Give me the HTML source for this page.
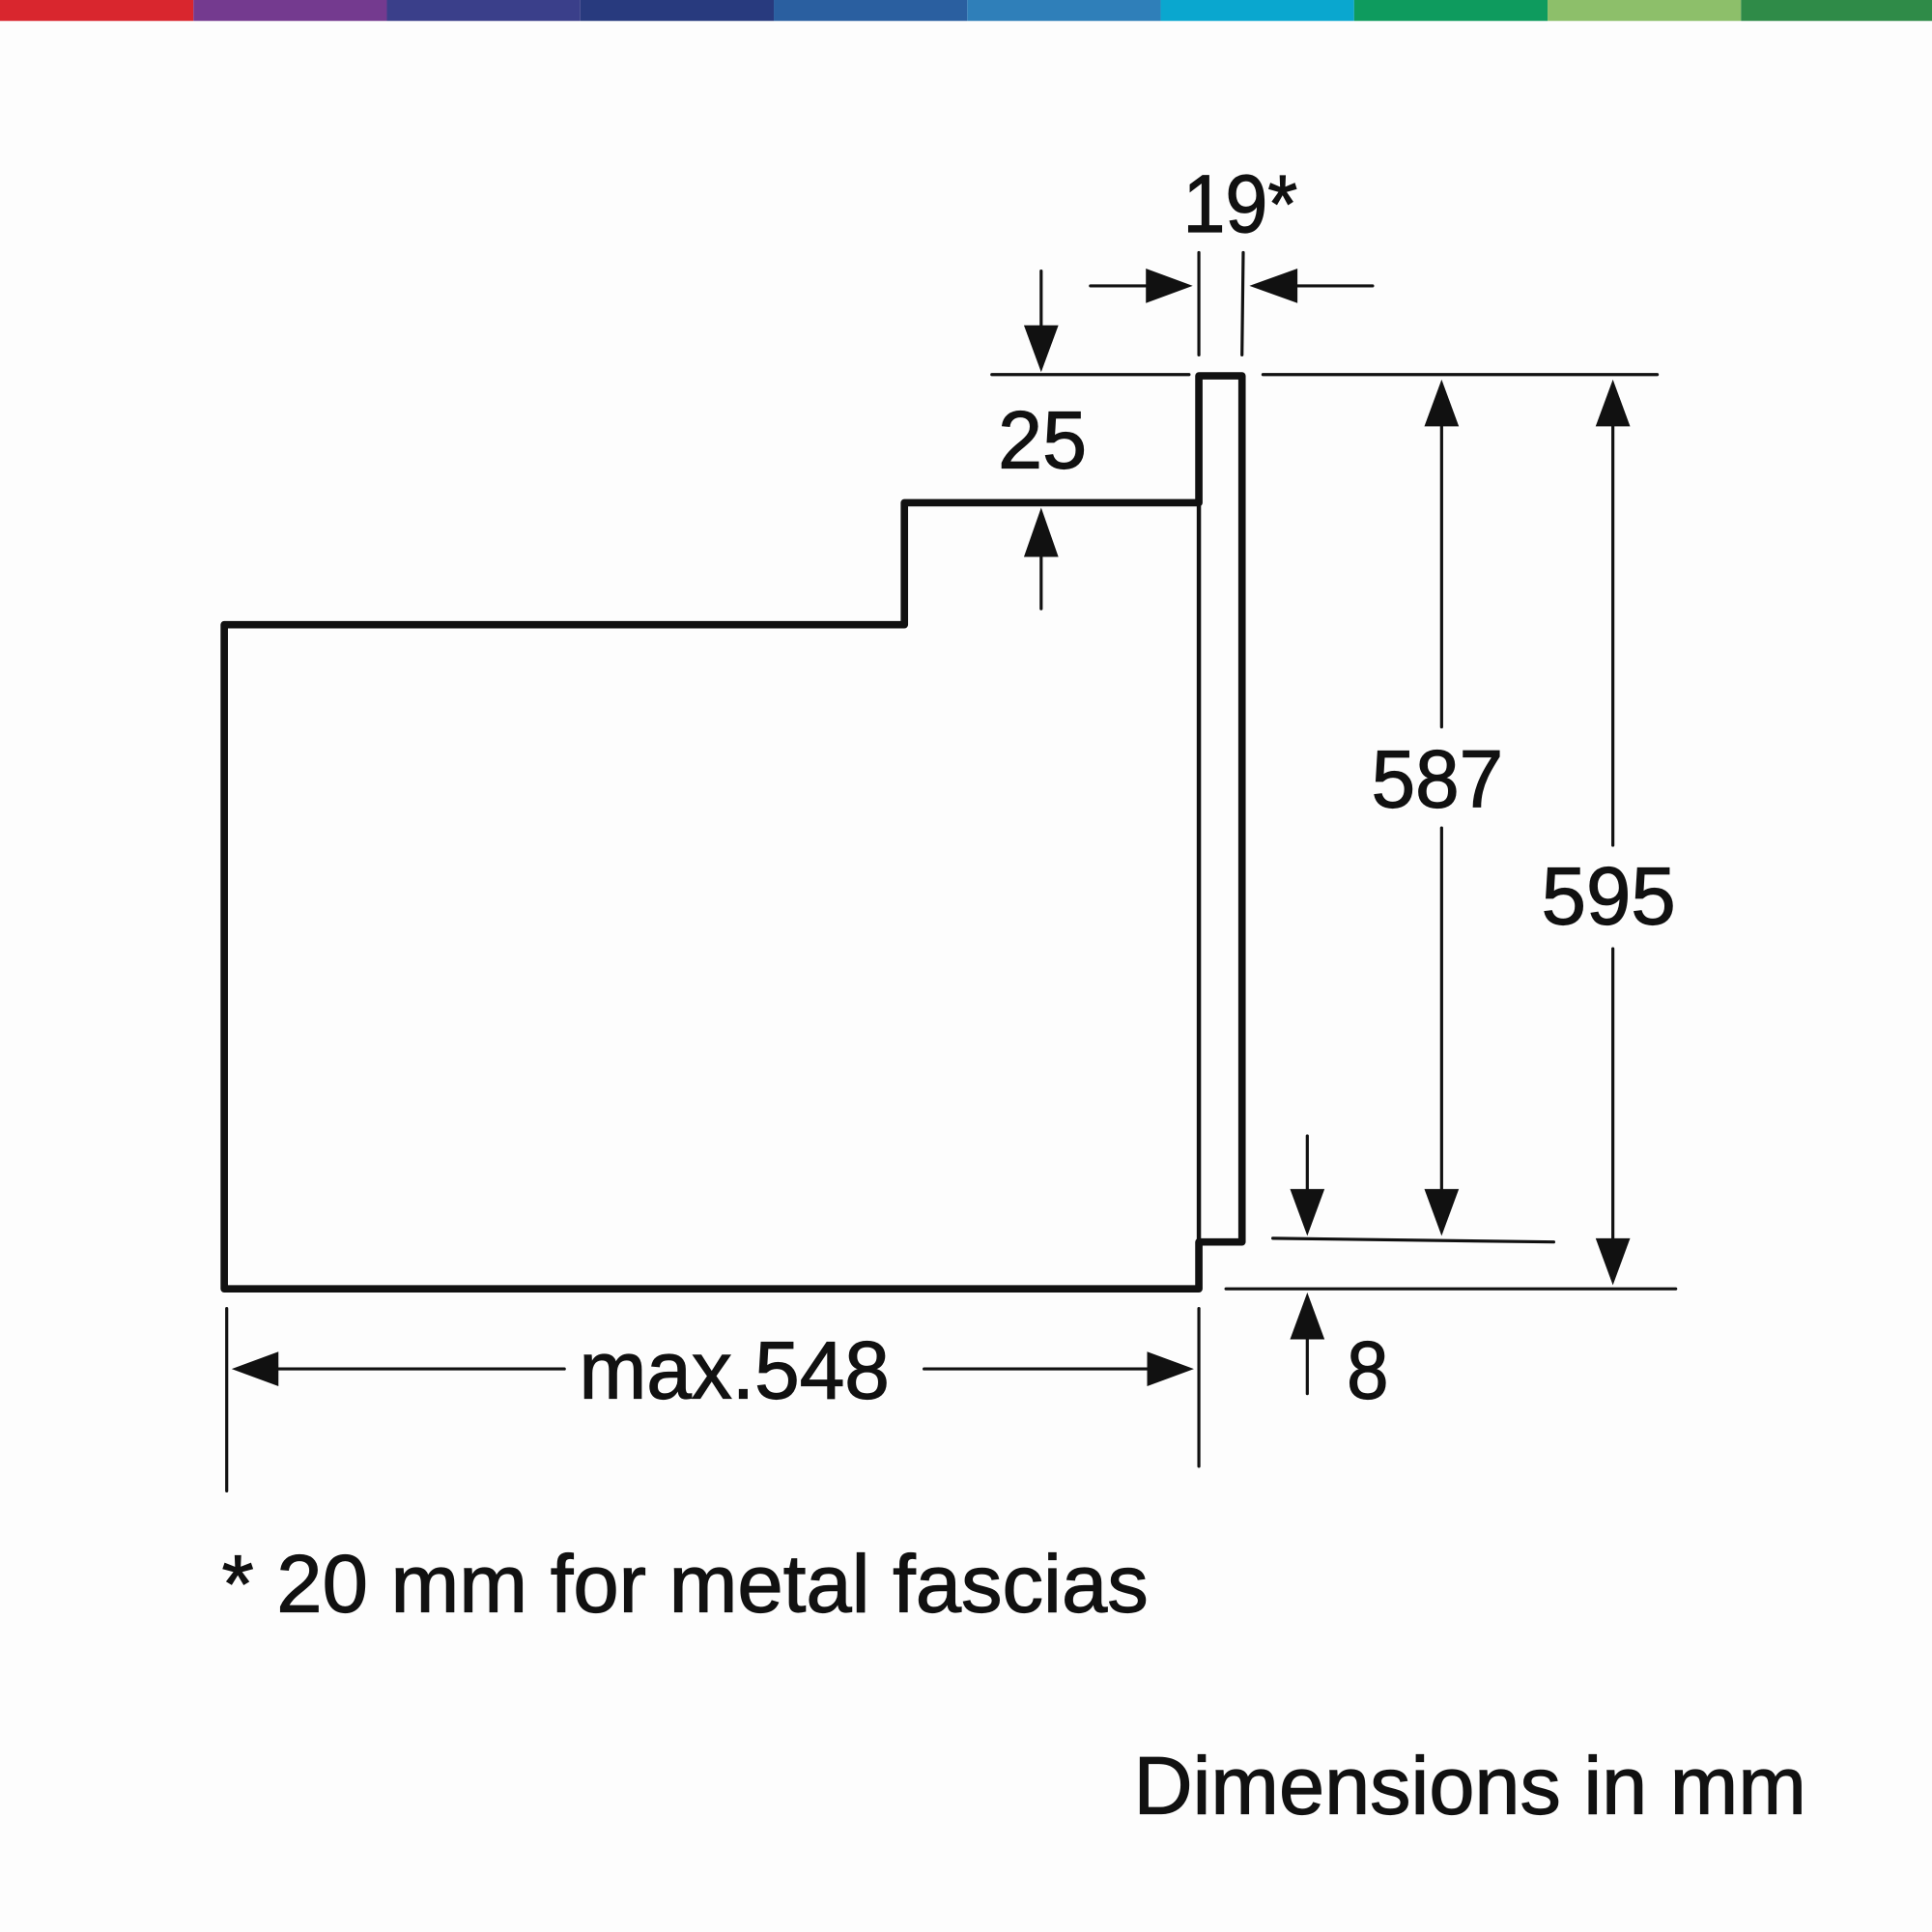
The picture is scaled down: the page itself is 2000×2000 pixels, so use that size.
<!DOCTYPE html>
<html><head><meta charset="utf-8"><style>
html,body{margin:0;padding:0;background:#fdfdfd;}
svg{display:block;}
text{font-family:"Liberation Sans",sans-serif;fill:#111;stroke:#111;stroke-width:0.9;}
</style></head><body>
<svg width="2000" height="2000" viewBox="0 0 1568 1568" xmlns="http://www.w3.org/2000/svg">
<rect x="0" y="0" width="1568" height="1568" fill="#fdfdfd"/>
<g>
<rect x="0" y="0" width="157" height="17" fill="#d9262e"/>
<rect x="157" y="0" width="157" height="17" fill="#743a8f"/>
<rect x="314" y="0" width="157" height="17" fill="#3a3f8a"/>
<rect x="471" y="0" width="157" height="17" fill="#283a7e"/>
<rect x="628" y="0" width="157" height="17" fill="#2a5fa0"/>
<rect x="785" y="0" width="157" height="17" fill="#2f7fb9"/>
<rect x="942" y="0" width="157" height="17" fill="#0aa7cf"/>
<rect x="1099" y="0" width="157" height="17" fill="#0e9b5e"/>
<rect x="1256" y="0" width="157" height="17" fill="#8dbf6a"/>
<rect x="1413" y="0" width="155" height="17" fill="#2f8b48"/>
</g>
<g fill="none" stroke="#111" stroke-linejoin="round" stroke-linecap="round">
<polygon points="182,507 734,507 734,408 973,408 973,305 1008,305 1008,1008 973,1008 973,1046 182,1046" stroke-width="6"/>
<line x1="973" y1="408" x2="973" y2="1008" stroke-width="3.5"/>
</g>
<g stroke="#111" stroke-width="2.5" stroke-linecap="round">
<line x1="845" y1="220" x2="845" y2="266"/>
<line x1="805" y1="304" x2="965" y2="304"/>
<line x1="845" y1="450" x2="845" y2="494"/>
<line x1="973" y1="205" x2="973" y2="288"/>
<line x1="1009" y1="205" x2="1008" y2="288"/>
<line x1="885" y1="232" x2="932" y2="232"/>
<line x1="1052" y1="232" x2="1114" y2="232"/>
<line x1="1025" y1="304" x2="1345" y2="304"/>
<line x1="1170" y1="345" x2="1170" y2="590"/>
<line x1="1170" y1="672" x2="1170" y2="966"/>
<line x1="1309" y1="345" x2="1309" y2="686"/>
<line x1="1309" y1="770" x2="1309" y2="1006"/>
<line x1="1033" y1="1005" x2="1261" y2="1008"/>
<line x1="995" y1="1046" x2="1360" y2="1046"/>
<line x1="1061" y1="922" x2="1061" y2="966"/>
<line x1="1061" y1="1087" x2="1061" y2="1131"/>
<line x1="184" y1="1062" x2="184" y2="1210"/>
<line x1="973" y1="1062" x2="973" y2="1190"/>
<line x1="226" y1="1111" x2="458" y2="1111"/>
<line x1="750" y1="1111" x2="932" y2="1111"/>
</g>
<g fill="#111">
<polygon points="845,302 831,264 859,264"/>
<polygon points="845,412 831,452 859,452"/>
<polygon points="968,232 930,218 930,246"/>
<polygon points="1014,232 1053,218 1053,246"/>
<polygon points="1170,308 1156,346 1184,346"/>
<polygon points="1170,1003 1156,965 1184,965"/>
<polygon points="1309,308 1295,346 1323,346"/>
<polygon points="1309,1043 1295,1005 1323,1005"/>
<polygon points="1061,1003 1047,965 1075,965"/>
<polygon points="1061,1049 1047,1087 1075,1087"/>
<polygon points="188,1111 226,1097 226,1125"/>
<polygon points="969,1111 931,1097 931,1125"/>
</g>
<g font-size="66" lengthAdjust="spacingAndGlyphs">
<text x="810" y="380" textLength="72" lengthAdjust="spacingAndGlyphs">25</text>
<text x="960" y="188" textLength="93" lengthAdjust="spacingAndGlyphs">19*</text>
<text x="1113" y="655" textLength="107" lengthAdjust="spacingAndGlyphs">587</text>
<text x="1251" y="750" textLength="109" lengthAdjust="spacingAndGlyphs">595</text>
<text x="1093" y="1135" textLength="34" lengthAdjust="spacingAndGlyphs">8</text>
<text x="470" y="1135" textLength="252" lengthAdjust="spacingAndGlyphs">max.548</text>
<text x="180" y="1308" textLength="752" lengthAdjust="spacingAndGlyphs">* 20 mm for metal fascias</text>
<text x="920" y="1472" textLength="546" lengthAdjust="spacingAndGlyphs">Dimensions in mm</text>
</g>
</svg>
</body></html>
